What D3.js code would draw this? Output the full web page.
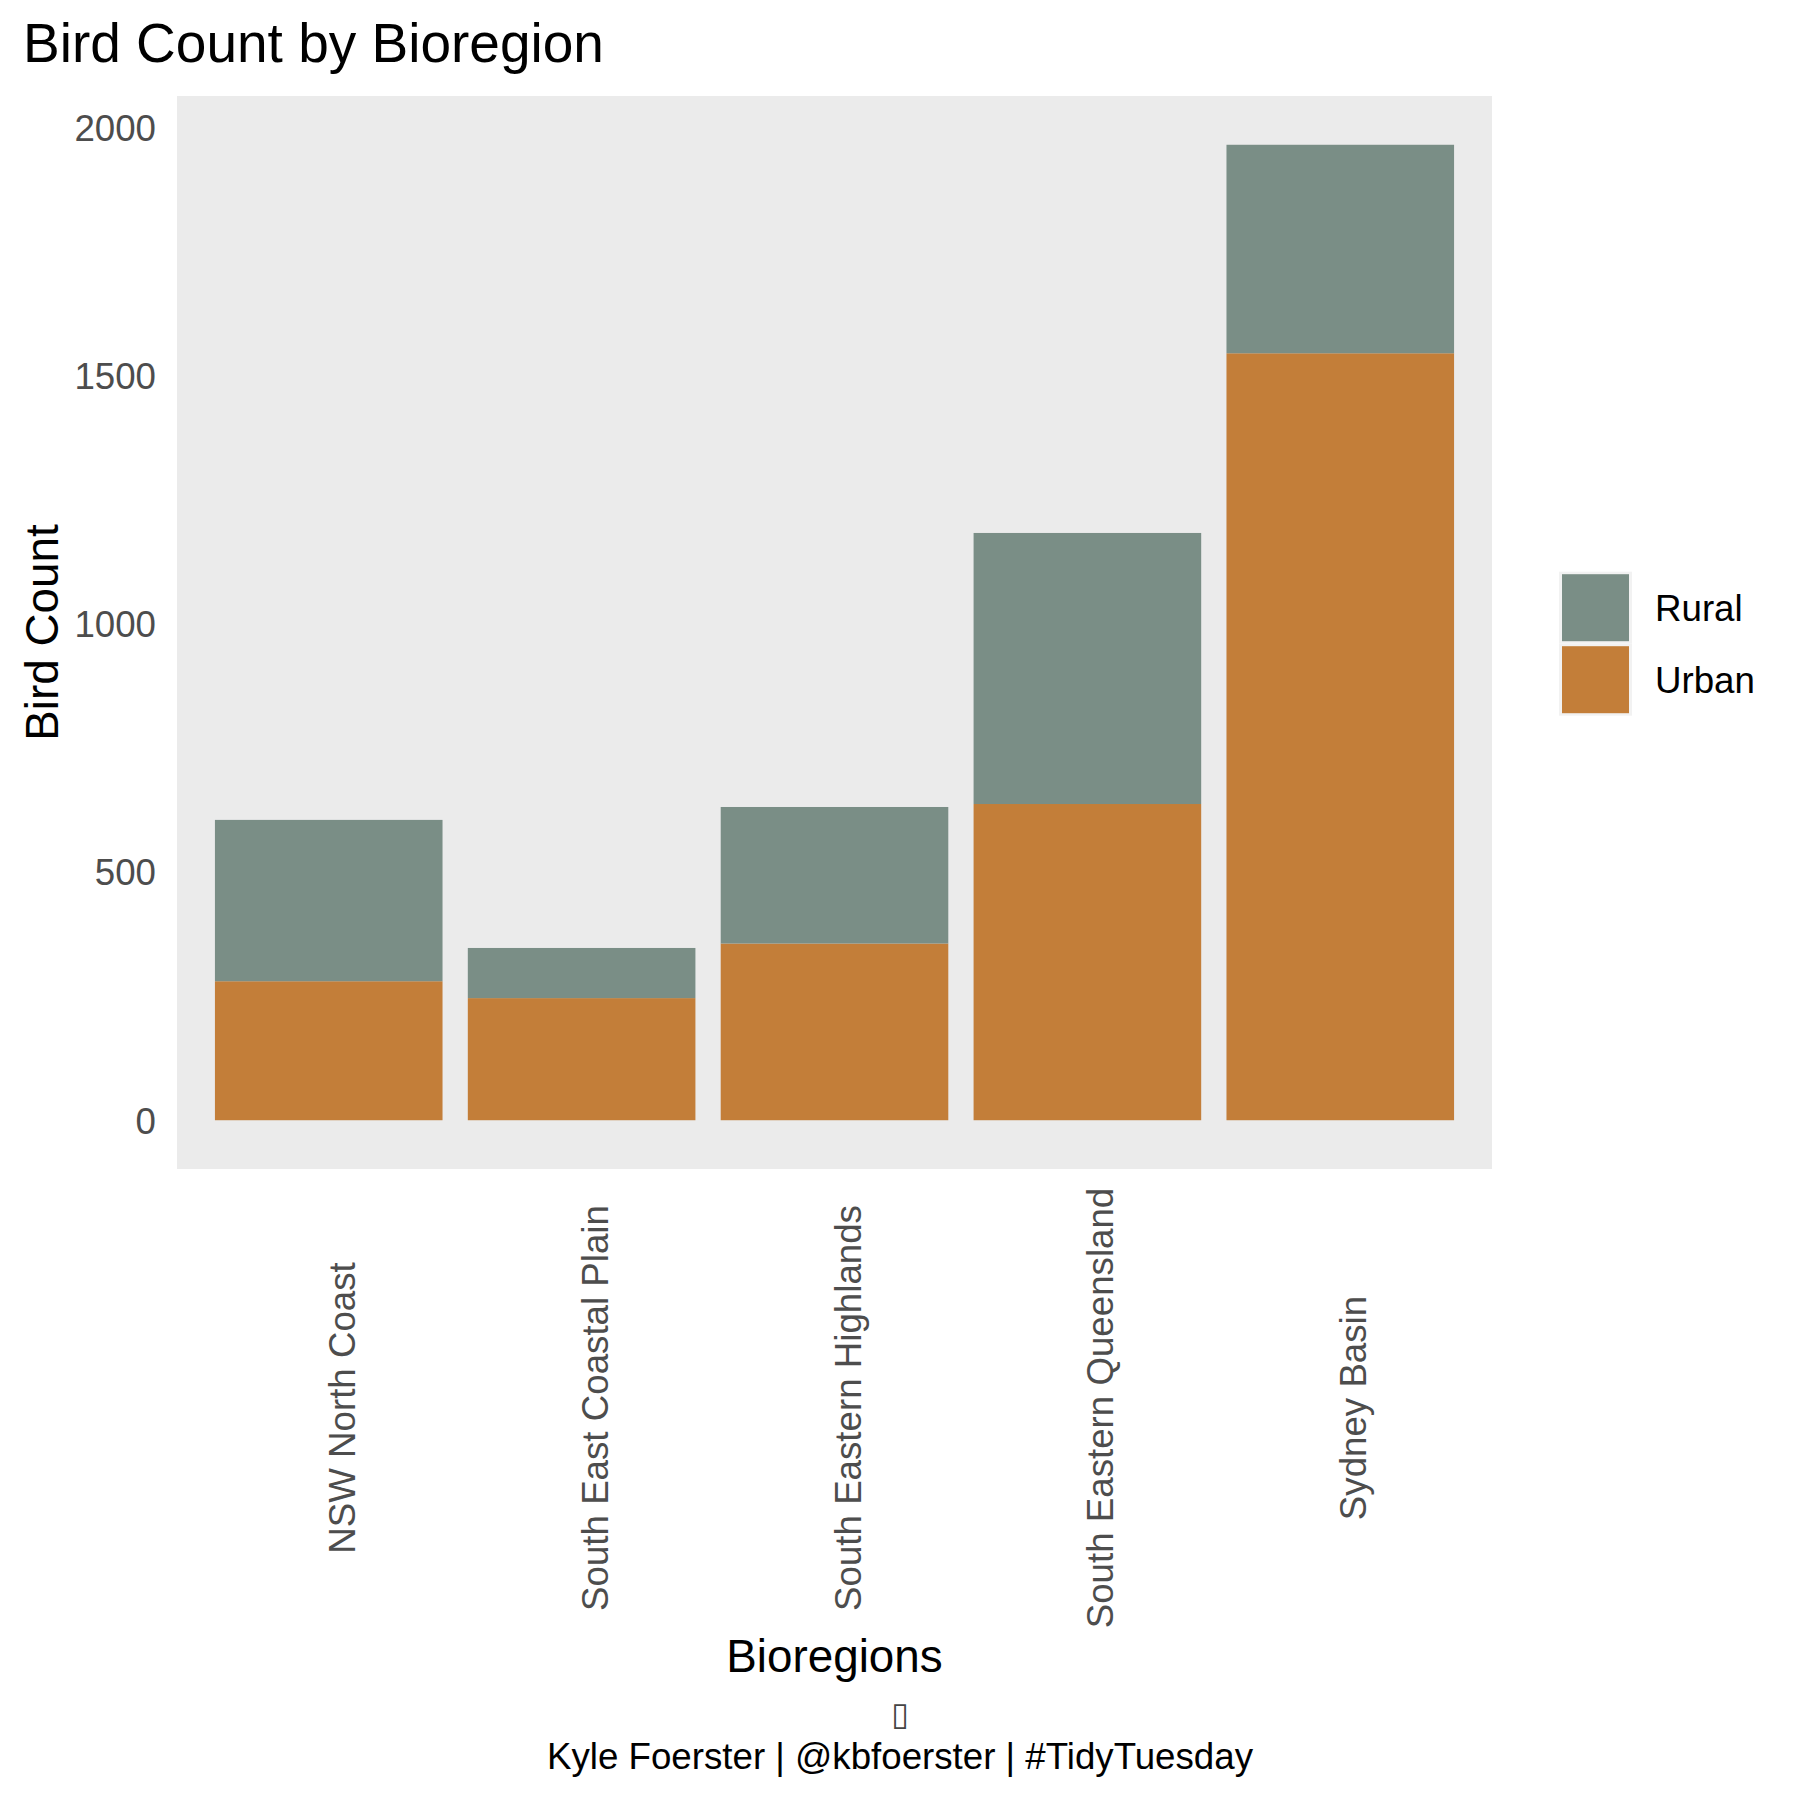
<!DOCTYPE html>
<html><head><meta charset="utf-8">
<script src="https://cdn.jsdelivr.net/npm/d3@7"></script>
<style>
body{margin:0;background:#fff}
text{font-family:"Liberation Sans",Arial,Helvetica,sans-serif}
</style>
</head><body>
<svg id="c" width="1800" height="1800"></svg>
<script>
// ---- data ----
const categories = ["NSW North Coast","South East Coastal Plain","South Eastern Highlands","South Eastern Queensland","Sydney Basin"];
const seriesNames = ["Rural","Urban"];
const urbanCounts = [280, 246, 356, 637, 1545];
const ruralCounts = [325, 101, 275, 546, 420];
const yTickValues = [0, 500, 1000, 1500, 2000];
const seriesColors = ["#7a8e86", "#c37e39"]; // Rural, Urban
const titleText = "Bird Count by Bioregion";
const xTitle = "Bioregions";
const yTitle = "Bird Count";
const captionIcon = "\u25AF";
const captionText = "Kyle Foerster | @kbfoerster | #TidyTuesday";

// ---- layout ----
const svg = d3.select("#c");
const P = {left:177, right:1492, top:96, bottom:1169};
const FS = 36.7;

svg.append("rect").attr("width",1800).attr("height",1800).attr("fill","#fff");

const rows = categories.map((c,i)=>({cat:c, Urban:urbanCounts[i], Rural:ruralCounts[i]}));
const stack = d3.stack().keys(["Urban","Rural"])(rows);
const maxTotal = d3.max(rows, r=>r.Urban+r.Rural);

const x = d3.scaleBand().domain(categories).range([P.left,P.right]).paddingInner(0.1).paddingOuter(0.15);
const y = d3.scaleLinear().domain([-0.05*maxTotal, 1.05*maxTotal]).range([P.bottom,P.top]);
const color = d3.scaleOrdinal().domain(seriesNames).range(seriesColors);

// panel
svg.append("rect").attr("x",P.left).attr("y",P.top).attr("width",P.right-P.left).attr("height",P.bottom-P.top).attr("fill","#ebebeb");

// bars
svg.append("g").selectAll("g").data(stack).join("g")
  .attr("fill", d=>color(d.key))
  .selectAll("rect").data(d=>d).join("rect")
  .attr("x", d=>x(d.data.cat))
  .attr("width", x.bandwidth())
  .attr("y", d=>y(d[1]))
  .attr("height", d=>y(d[0])-y(d[1]));

// y axis
const yAxis = svg.append("g").attr("transform",`translate(${P.left},0)`)
  .call(d3.axisLeft(y).tickValues(yTickValues).tickSize(0).tickPadding(21).tickFormat(d3.format("d")));
yAxis.select(".domain").remove();
yAxis.selectAll("text").attr("font-size",FS).attr("fill","#4d4d4d").attr("dy","0.35em")
  .style("font-family",'"Liberation Sans",Arial,sans-serif');

// x axis
const xAxis = svg.append("g").attr("transform",`translate(0,${P.bottom})`)
  .call(d3.axisBottom(x).tickSize(0));
xAxis.select(".domain").remove();
xAxis.selectAll("text").attr("font-size",FS).attr("fill","#4d4d4d")
  .attr("y",0).attr("dy",0).attr("text-anchor","middle")
  .attr("transform",`translate(26,${1408-P.bottom}) rotate(-90)`)
  .style("font-family",'"Liberation Sans",Arial,sans-serif');

// titles
svg.append("text").attr("x",23).attr("y",62).attr("font-size",55).attr("fill","#000").text(titleText);
svg.append("text").attr("x",(P.left+P.right)/2).attr("y",1672).attr("text-anchor","middle")
  .attr("font-size",45.8).attr("fill","#000").text(xTitle);
svg.append("text").attr("transform",`translate(58,${(P.top+P.bottom)/2}) rotate(-90)`)
  .attr("text-anchor","middle").attr("font-size",45.8).attr("fill","#000").text(yTitle);

// legend
const legKeys = [{name:"Rural",y0:571.7},{name:"Urban",y0:643.7}];
const leg = svg.append("g");
legKeys.forEach(k=>{
  leg.append("rect").attr("x",1559).attr("y",k.y0).attr("width",73).attr("height",72).attr("fill","#f2f2f2");
  leg.append("rect").attr("x",1562).attr("y",k.y0+2.5).attr("width",67).attr("height",67).attr("fill",color(k.name));
  leg.append("text").attr("x",1655).attr("y",k.y0+36+13.5).attr("font-size",FS).attr("fill","#000").text(k.name);
});

// caption
svg.append("text").attr("x",900).attr("y",1725).attr("text-anchor","middle").attr("font-size",32)
  .attr("fill","#444").style("font-family",'"DejaVu Sans",sans-serif').text(captionIcon);
svg.append("text").attr("x",900).attr("y",1769).attr("text-anchor","middle").attr("font-size",FS)
  .attr("fill","#000").text(captionText);
</script>
</body></html>
